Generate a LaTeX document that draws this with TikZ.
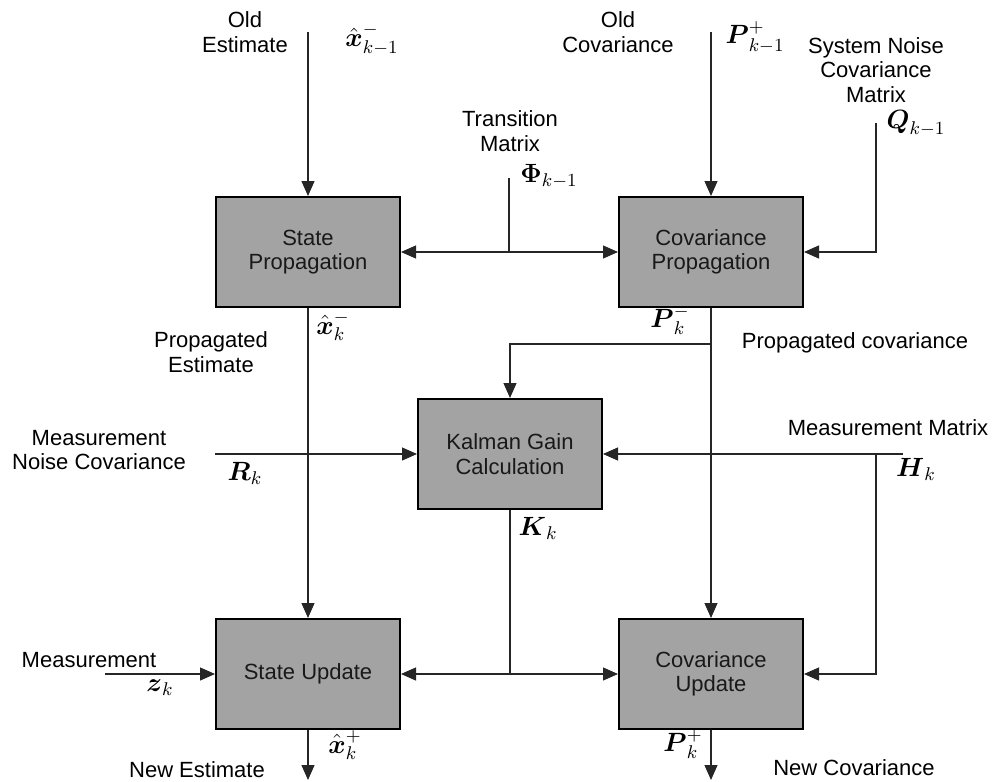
\RequirePackage{fix-cm}
\documentclass[tikz,border=0pt]{standalone}
\usepackage{amsmath}
\usepackage{amssymb}
\usepackage{fontspec}
\setmainfont{Liberation Sans}
\usetikzlibrary{arrows.meta,positioning}
\definecolor{boxgray}{RGB}{163,163,163}

\begin{document}
\begin{tikzpicture}[x=0.5pt,y=-0.5pt,->,>={Triangle[length=7.5pt,width=6.5pt]}, line width=0.6pt, draw=black!85]
			\tikzstyle{block}=[draw=black,line width=1pt,fill=boxgray,text=black!90,align=center,
			minimum width=92pt,minimum height=55pt,inner sep=0pt,font=\fontsize{11}{12.3}\selectfont]
			\tikzstyle{txt}=[align=center,inner sep=0pt,font=\fontsize{11}{12.3}\selectfont]
			\tikzstyle{mth}=[inner sep=0pt,font=\fontsize{13.2}{15}\selectfont]

			\useasboundingbox (0,0) rectangle (1003,782);

			\begin{scope}
				% the five blocks
				\node[block] (sp) at (308,252) {State\\Propagation}; \node[block] (cp)
				at (711,252) {Covariance\\Propagation}; \node[block] (kg) at (510,454)
				{Kalman Gain\\Calculation}; \node[block] (su) at (308,674) {State Update};
				\node[block] (cu) at (711,674) {Covariance\\Update};

				% texts
				\node[txt] (oldest) at (245,32) {Old\\Estimate}; \node[mth] (xprev) at
				(372,39) {$\hat{\boldsymbol{x}}^-_{k-1}$}; \node[txt] (oldcov) at (618,32)
				{Old\\Covariance}; \node[mth] (pprev) at (755,37) {$\boldsymbol{P}^+_{k-1}$};
				\node[txt] (sysnoise) at (876,70) {System Noise\\Covariance\\Matrix};
				\node[mth] (qprev) at (916,123) {$\boldsymbol{Q}_{k-1}$}; \node[txt] (trans)
				at (510,131) {Transition\\Matrix}; \node[mth] (phi) at (549,176)
				{$\boldsymbol{\Phi}_{k-1}$};
				\node[mth] (xprop) at (333,326) {$\hat{\boldsymbol{x}}^-_k$}; \node[txt]
				(propest) at (211,352) {Propagated\\Estimate}; \node[mth] (pprop) at
				(670,320) {$\boldsymbol{P}^-_k$}; \node[txt] (propcov) at (855,343)
				{Propagated covariance};
				\node[txt] (measnoise) at (99,450) {Measurement\\Noise Covariance};
				\node[mth] (rk) at (245,473) {$\boldsymbol{R}_k$}; \node[txt] (measmat) at
				(888,428) {Measurement Matrix}; \node[mth] (hk) at (916,469)
				{$\boldsymbol{H}_k$}; \node[mth] (kk) at (538,528) {$\boldsymbol{K}_k$};
				\node[txt] (meas) at (89,660) {Measurement}; \node[mth] (zk) at (160,688)
				{$\boldsymbol{z}_k$}; \node[mth] (xnew) at (345,745)
				{$\hat{\boldsymbol{x}}^+_k$}; \node[txt] (newest) at (197,770) {New Estimate};
				\node[mth] (pnew) at (683,744) {$\boldsymbol{P}^+_k$}; \node[txt] (newcov)
				at (854,768) {New Covariance};

				% free ends and junctions
				\coordinate (xin) at (308,32); \coordinate (pin) at (711,32);
				\coordinate (qin) at (876,123); \coordinate (phiin) at (509,178);
				\coordinate (phij) at (509,252); \coordinate (pbr) at (711,344);
				\coordinate (rin) at (215,454); \coordinate (hin) at (903,454);
				\coordinate (hj) at (876,454); \coordinate (kj) at (510,674);
				\coordinate (zin) at (105,674); \coordinate (xout) at (308,780);
				\coordinate (pout) at (711,780);

				\draw (xin) -- (sp); \draw (pin) -- (cp); \draw (qin) |- (cp.east);
				\draw[<->] (sp) -- (cp); \draw[-] (phiin) -- (phij); \draw (sp) -- (su);
				\draw (cp) -- (cu); \draw (pbr) -| (kg.north); \draw (rin) -- (kg.west);
				\draw (hin) -- (kg.east); \draw (hj) |- (cu.east); \draw[-] (kg) -- (kj);
				\draw[<->] (su) -- (cu); \draw (zin) -- (su.west); \draw (su) -- (xout);
				\draw (cu) -- (pout);
			\end{scope}
		\end{tikzpicture}
\end{document}
